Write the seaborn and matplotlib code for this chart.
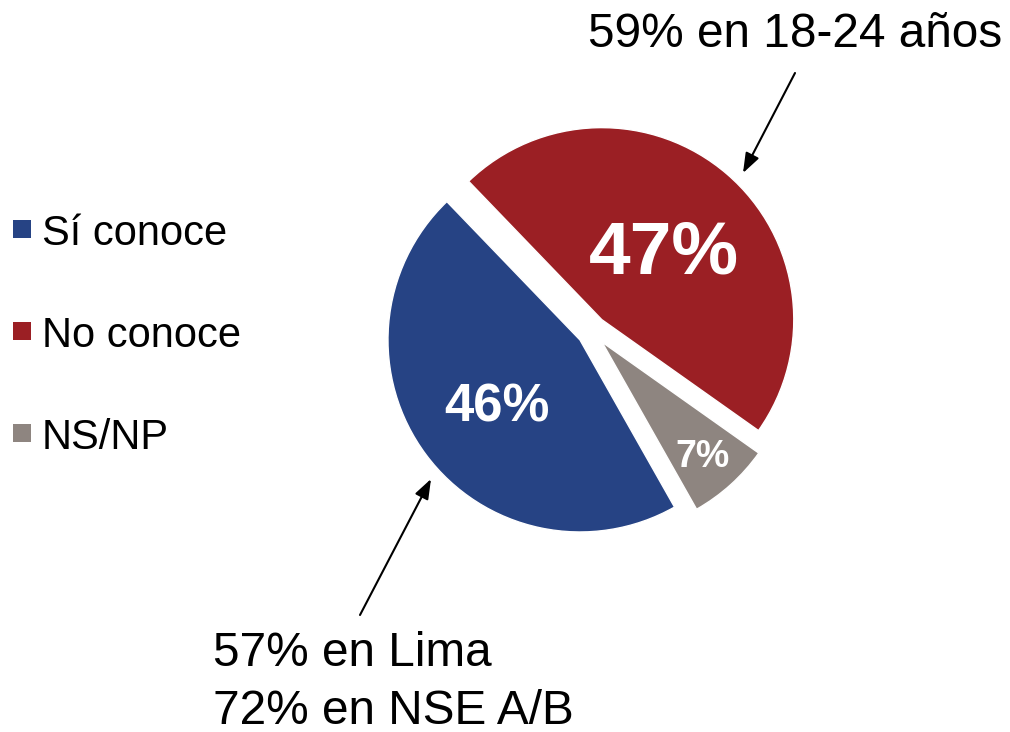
import numpy as np
import matplotlib
matplotlib.use("Agg")
import matplotlib.pyplot as plt
from matplotlib.patches import Rectangle
import seaborn as sns

# Survey answers and their shares (%)
categories = ["Sí conoce", "No conoce", "NS/NP"]
shares = [46, 47, 7]
colors = ["#264384", "#9B1F24", "#8E8580"]

# Callout notes attached to the two main slices
note_no = ["59% en 18-24 años"]
note_si = ["57% en Lima", "72% en NSE A/B"]

sns.set_theme(style="white")
plt.rcParams["font.family"] = ["Liberation Sans", "DejaVu Sans"]

W, H = 1010, 732
fig = plt.figure(figsize=(W / 100, H / 100), dpi=100)
ax = fig.add_axes([0, 0, 1, 1])

radius = 192
wedges, _ = ax.pie(
    shares,
    colors=colors,
    startangle=-60.5,
    counterclock=False,
    explode=[15] * len(shares),
    center=(592, 401),
    radius=radius,
    frame=True,
)
ax.set_xlim(0, W)
ax.set_ylim(0, H)
ax.set_aspect("equal")
ax.axis("off")

# Percentage labels inside each slice
label_dist = [0.54, 0.50, 0.78]
label_size = [38, 54, 27]
for w, v, d, fs in zip(wedges, shares, label_dist, label_size):
    th = np.deg2rad((w.theta1 + w.theta2) / 2)
    cx, cy = w.center
    ax.text(cx + d * w.r * np.cos(th), cy + d * w.r * np.sin(th), f"{v}%",
            ha="center", va="center_baseline", fontsize=fs,
            fontweight="bold", color="white")

# Legend: small squares with labels, stacked on the left
row_top = 220
row_gap = 102
for i, (cat, col) in enumerate(zip(categories, colors)):
    top = row_top + i * row_gap
    ax.add_patch(Rectangle((13, H - top - 17.5), 17.5, 17.5, facecolor=col,
                           edgecolor="none"))
    ax.text(42, H - (top + 25), cat, ha="left", va="baseline",
            fontsize=30, color="black")

# Callouts with arrows
arrow_kw = dict(arrowstyle="-|>,head_length=0.6,head_width=0.22",
                color="black", lw=1.5, shrinkA=0, shrinkB=0,
                mutation_scale=20)
ax.annotate("", xy=(743, H - 173), xytext=(795, H - 73), arrowprops=arrow_kw)
ax.annotate("", xy=(431, H - 479), xytext=(360, H - 615), arrowprops=arrow_kw)

ax.text(588, H - 47, note_no[0], ha="left", va="baseline", fontsize=34.4,
        color="black")
for j, line in enumerate(note_si):
    ax.text(213, H - (666 + 58 * j), line, ha="left", va="baseline",
            fontsize=34.4, color="black")

fig.savefig("out.png", dpi=100, facecolor="white")
